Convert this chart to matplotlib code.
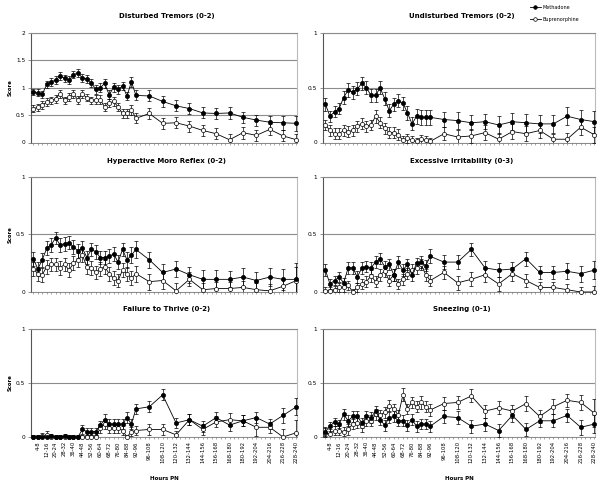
import matplotlib
matplotlib.use("Agg")
import matplotlib.pyplot as plt
from matplotlib.lines import Line2D

# time bins (hours post natal); first 24 bins are 4h wide, the rest 12h
bins = ["0-4", "4-8", "8-12", "12-16", "16-20", "20-24", "24-28", "28-32",
        "32-36", "36-40", "40-44", "44-48", "48-52", "52-56", "56-60", "60-64",
        "64-68", "68-72", "72-76", "76-80", "80-84", "84-88", "88-92", "92-96",
        "96-108", "108-120", "120-132", "132-144", "144-156", "156-168",
        "168-180", "180-192", "192-204", "204-216", "216-228", "228-240"]
shown_bins = bins[1:24:2] + bins[24:]

# Disturbed Tremors (0-2)
dist_meth = [0.92, 0.91, 0.88, 1.06, 1.11, 1.14, 1.22, 1.17, 1.14, 1.24, 1.27, 1.18,
             1.16, 1.09, 0.97, 1.00, 1.08, 0.87, 1.01, 0.97, 1.03, 0.85, 1.11, 0.86,
             0.85, 0.75, 0.67, 0.62, 0.54, 0.53, 0.54, 0.46, 0.41, 0.37, 0.36, 0.35]
dist_meth_err = [0.06, 0.06, 0.06, 0.07, 0.07, 0.07, 0.07, 0.07, 0.07, 0.07, 0.07, 0.07,
                 0.07, 0.07, 0.08, 0.08, 0.08, 0.08, 0.08, 0.08, 0.08, 0.08, 0.09, 0.09,
                 0.10, 0.10, 0.10, 0.10, 0.10, 0.10, 0.11, 0.10, 0.10, 0.12, 0.13, 0.14]
dist_bup = [0.62, 0.64, 0.68, 0.74, 0.77, 0.80, 0.89, 0.77, 0.83, 0.88, 0.78, 0.88,
            0.82, 0.77, 0.78, 0.78, 0.65, 0.72, 0.75, 0.65, 0.53, 0.53, 0.60, 0.44,
            0.53, 0.35, 0.36, 0.30, 0.22, 0.16, 0.05, 0.18, 0.13, 0.24, 0.12, 0.05]
dist_bup_err = [0.06, 0.07, 0.07, 0.07, 0.07, 0.07, 0.07, 0.07, 0.07, 0.07, 0.07, 0.07,
                0.07, 0.07, 0.08, 0.08, 0.08, 0.08, 0.08, 0.08, 0.08, 0.08, 0.09, 0.09,
                0.10, 0.10, 0.10, 0.10, 0.10, 0.10, 0.10, 0.11, 0.10, 0.10, 0.10, 0.10]

# Undisturbed Tremors (0-2)
und_meth = [0.35, 0.24, 0.28, 0.31, 0.41, 0.48, 0.46, 0.49, 0.54, 0.50, 0.43, 0.43,
            0.50, 0.40, 0.29, 0.35, 0.38, 0.36, 0.27, 0.17, 0.24, 0.23, 0.23, 0.23,
            0.21, 0.20, 0.18, 0.19, 0.16, 0.19, 0.18, 0.17, 0.17, 0.24, 0.21, 0.19]
und_meth_err = [0.06, 0.05, 0.05, 0.05, 0.06, 0.06, 0.06, 0.06, 0.06, 0.06, 0.06, 0.06,
                0.06, 0.06, 0.06, 0.06, 0.06, 0.06, 0.06, 0.06, 0.07, 0.07, 0.07, 0.07,
                0.07, 0.08, 0.07, 0.07, 0.08, 0.08, 0.08, 0.08, 0.08, 0.08, 0.09, 0.10]
und_bup = [0.16, 0.11, 0.08, 0.08, 0.11, 0.10, 0.11, 0.15, 0.17, 0.15, 0.16, 0.24,
           0.18, 0.13, 0.09, 0.09, 0.07, 0.02, 0.04, 0.02, 0.01, 0.03, 0.02, 0.01,
           0.08, 0.05, 0.06, 0.09, 0.03, 0.10, 0.08, 0.11, 0.03, 0.03, 0.14, 0.07]
und_bup_err = [0.05, 0.05, 0.05, 0.05, 0.05, 0.05, 0.05, 0.05, 0.05, 0.05, 0.05, 0.06,
               0.05, 0.05, 0.05, 0.05, 0.05, 0.04, 0.04, 0.04, 0.03, 0.04, 0.04, 0.03,
               0.06, 0.06, 0.06, 0.07, 0.06, 0.07, 0.07, 0.07, 0.05, 0.06, 0.07, 0.07]

# Hyperactive Moro Reflex (0-2)
moro_meth = [0.29, 0.20, 0.28, 0.38, 0.41, 0.47, 0.41, 0.42, 0.43, 0.39, 0.36, 0.38,
             0.30, 0.37, 0.35, 0.30, 0.30, 0.31, 0.33, 0.26, 0.37, 0.28, 0.32, 0.37,
             0.28, 0.17, 0.20, 0.15, 0.11, 0.11, 0.11, 0.13, 0.10, 0.13, 0.11, 0.11]
moro_meth_err = [0.06, 0.06, 0.06, 0.06, 0.06, 0.05, 0.06, 0.06, 0.06, 0.06, 0.06, 0.06,
                 0.06, 0.06, 0.06, 0.06, 0.06, 0.06, 0.06, 0.06, 0.06, 0.07, 0.07, 0.07,
                 0.07, 0.07, 0.07, 0.07, 0.08, 0.08, 0.07, 0.08, 0.07, 0.08, 0.09, 0.14]
moro_bup = [0.20, 0.16, 0.15, 0.22, 0.24, 0.24, 0.21, 0.24, 0.19, 0.25, 0.28, 0.32,
            0.22, 0.21, 0.17, 0.20, 0.22, 0.16, 0.12, 0.10, 0.19, 0.16, 0.12, 0.16,
            0.09, 0.10, 0.01, 0.11, 0.02, 0.03, 0.03, 0.04, 0.02, 0.01, 0.05, 0.10]
moro_bup_err = [0.06, 0.06, 0.06, 0.06, 0.06, 0.06, 0.06, 0.06, 0.06, 0.06, 0.06, 0.06,
                0.06, 0.06, 0.06, 0.06, 0.06, 0.06, 0.06, 0.06, 0.06, 0.06, 0.06, 0.07,
                0.07, 0.07, 0.07, 0.06, 0.06, 0.06, 0.06, 0.06, 0.06, 0.06, 0.06, 0.12]

# Excessive Irritability (0-3)
irr_meth = [0.19, 0.07, 0.10, 0.13, 0.08, 0.21, 0.21, 0.13, 0.21, 0.22, 0.21, 0.26,
            0.29, 0.22, 0.24, 0.15, 0.26, 0.19, 0.24, 0.15, 0.25, 0.26, 0.23, 0.31,
            0.26, 0.26, 0.37, 0.21, 0.19, 0.20, 0.29, 0.17, 0.17, 0.18, 0.16, 0.19]
irr_meth_err = [0.05, 0.04, 0.04, 0.04, 0.04, 0.05, 0.05, 0.05, 0.05, 0.05, 0.05, 0.05,
                0.05, 0.05, 0.05, 0.05, 0.05, 0.05, 0.05, 0.05, 0.05, 0.05, 0.05, 0.06,
                0.06, 0.06, 0.06, 0.06, 0.06, 0.06, 0.06, 0.06, 0.06, 0.07, 0.07, 0.08]
irr_bup = [0.01, 0.01, 0.02, 0.04, 0.04, 0.06, 0.00, 0.04, 0.07, 0.09, 0.14, 0.09,
           0.15, 0.18, 0.10, 0.15, 0.07, 0.11, 0.16, 0.19, 0.21, 0.24, 0.15, 0.10,
           0.17, 0.08, 0.11, 0.15, 0.07, 0.16, 0.10, 0.04, 0.04, 0.02, 0.00, 0.00]
irr_bup_err = [0.03, 0.03, 0.03, 0.04, 0.04, 0.04, 0.03, 0.04, 0.04, 0.05, 0.05, 0.05,
               0.05, 0.05, 0.05, 0.05, 0.04, 0.05, 0.05, 0.05, 0.05, 0.05, 0.05, 0.05,
               0.06, 0.06, 0.06, 0.06, 0.06, 0.06, 0.06, 0.05, 0.05, 0.05, 0.04, 0.05]

# Failure to Thrive (0-2)
ftt_meth = [0.00, 0.00, 0.00, 0.00, 0.01, 0.00, 0.00, 0.01, 0.00, 0.00, 0.00, 0.07,
            0.05, 0.05, 0.05, 0.11, 0.16, 0.12, 0.12, 0.12, 0.12, 0.18, 0.12, 0.26,
            0.28, 0.39, 0.13, 0.16, 0.10, 0.18, 0.11, 0.15, 0.18, 0.12, 0.20, 0.28]
ftt_meth_err = [0.02, 0.02, 0.02, 0.02, 0.02, 0.02, 0.02, 0.02, 0.02, 0.02, 0.02, 0.04,
                0.03, 0.03, 0.03, 0.04, 0.05, 0.05, 0.05, 0.05, 0.05, 0.05, 0.05, 0.05,
                0.05, 0.05, 0.05, 0.05, 0.05, 0.05, 0.05, 0.05, 0.05, 0.05, 0.07, 0.08]
ftt_bup = [0.00, 0.00, 0.01, 0.02, 0.00, 0.00, 0.00, 0.00, 0.00, 0.00, 0.00, 0.00,
           0.00, 0.00, 0.00, 0.08, 0.12, 0.08, 0.08, 0.08, 0.06, 0.00, 0.05, 0.06,
           0.07, 0.07, 0.02, 0.16, 0.07, 0.14, 0.16, 0.15, 0.09, 0.09, 0.00, 0.04]
ftt_bup_err = [0.02, 0.02, 0.03, 0.04, 0.02, 0.02, 0.02, 0.02, 0.02, 0.02, 0.02, 0.02,
               0.02, 0.02, 0.02, 0.04, 0.05, 0.04, 0.04, 0.04, 0.04, 0.02, 0.04, 0.04,
               0.05, 0.05, 0.04, 0.05, 0.05, 0.05, 0.06, 0.05, 0.08, 0.05, 0.07, 0.12]

# Sneezing (0-1)
snz_meth = [0.05, 0.10, 0.14, 0.12, 0.21, 0.15, 0.19, 0.19, 0.13, 0.19, 0.18, 0.24,
            0.16, 0.11, 0.18, 0.19, 0.15, 0.15, 0.11, 0.16, 0.10, 0.12, 0.12, 0.10,
            0.19, 0.18, 0.10, 0.12, 0.06, 0.20, 0.07, 0.15, 0.15, 0.20, 0.09, 0.12]
snz_meth_err = [0.04, 0.04, 0.04, 0.04, 0.05, 0.05, 0.05, 0.05, 0.05, 0.05, 0.05, 0.05,
                0.05, 0.05, 0.05, 0.05, 0.05, 0.05, 0.05, 0.05, 0.05, 0.05, 0.05, 0.05,
                0.06, 0.06, 0.06, 0.06, 0.06, 0.06, 0.06, 0.06, 0.06, 0.06, 0.07, 0.08]
snz_bup = [0.04, 0.03, 0.06, 0.06, 0.05, 0.07, 0.12, 0.13, 0.10, 0.15, 0.15, 0.21,
           0.20, 0.23, 0.29, 0.26, 0.20, 0.39, 0.26, 0.32, 0.28, 0.32, 0.28, 0.25,
           0.31, 0.32, 0.38, 0.24, 0.27, 0.24, 0.31, 0.19, 0.28, 0.34, 0.32, 0.22]
snz_bup_err = [0.04, 0.04, 0.04, 0.04, 0.04, 0.05, 0.05, 0.05, 0.05, 0.05, 0.05, 0.05,
               0.05, 0.05, 0.05, 0.05, 0.05, 0.06, 0.05, 0.05, 0.05, 0.06, 0.05, 0.06,
               0.06, 0.06, 0.06, 0.06, 0.06, 0.06, 0.07, 0.06, 0.07, 0.06, 0.07, 0.13]

hours = [int(b.split("-")[1]) for b in bins]

W, H = 603, 488
fig = plt.figure(figsize=(W / 100, H / 100), dpi=100)


def rect(l, t, r, b):
    return [l / W, 1 - b / H, (r - l) / W, (b - t) / H]


cols = [(31, 297), (323, 595)]
rows = [(33, 142.5), (177, 292), (329, 437)]
title_y = [16, 161, 309]

panels = [
    ("Disturbed Tremors (0-2)", 2, dist_meth, dist_meth_err, dist_bup, dist_bup_err),
    ("Undisturbed Tremors (0-2)", 1, und_meth, und_meth_err, und_bup, und_bup_err),
    ("Hyperactive Moro Reflex (0-2)", 1, moro_meth, moro_meth_err, moro_bup, moro_bup_err),
    ("Excessive Irritability (0-3)", 1, irr_meth, irr_meth_err, irr_bup, irr_bup_err),
    ("Failure to Thrive (0-2)", 1, ftt_meth, ftt_meth_err, ftt_bup, ftt_bup_err),
    ("Sneezing (0-1)", 1, snz_meth, snz_meth_err, snz_bup, snz_bup_err),
]

grid_col = "#8c8c8c"
for k, (title, ymax, meth, meth_e, bup, bup_e) in enumerate(panels):
    r, c = divmod(k, 2)
    l, rr = cols[c]
    t, b = rows[r]
    ax = fig.add_axes(rect(l, t, rr, b))

    for y, e, face in [(bup, bup_e, "white"), (meth, meth_e, "black")]:
        ax.errorbar(hours, y, yerr=e, fmt="none", ecolor="black",
                    elinewidth=0.5, capsize=1.2, capthick=0.5, zorder=3)
        ax.plot(hours, y, color="black", lw=0.6, marker="o", ms=3.0,
                mfc=face, mec="black", mew=0.5, zorder=4, clip_on=False)

    ax.set_xlim(1.9, 240.5)
    ax.set_ylim(0, ymax)
    yt = [i * 0.5 for i in range(int(ymax / 0.5) + 1)]
    ax.set_yticks(yt)
    ax.set_yticklabels(["%g" % v for v in yt])
    ax.yaxis.grid(True, color=grid_col, lw=0.8)
    ax.set_axisbelow(True)

    ax.set_xticks(list(range(4, 241, 4)))
    labels = [bins[hours.index(h)] if h in hours and bins[hours.index(h)] in shown_bins else ""
              for h in range(4, 241, 4)]
    ax.set_xticklabels(labels, rotation=90)
    ax.tick_params(axis="x", length=1.5, width=0.4, color="#666666",
                   labelsize=3.8, pad=1.5, labelbottom=(r == 2))
    ax.tick_params(axis="y", length=2, width=0.5, color="#666666",
                   labelsize=4.2, pad=2)

    ax.spines["left"].set_color("#555555")
    ax.spines["left"].set_linewidth(0.8)
    ax.spines["bottom"].set_color("#777777")
    ax.spines["bottom"].set_linewidth(0.6)
    ax.spines["top"].set_color(grid_col)
    ax.spines["top"].set_linewidth(0.8)
    ax.spines["right"].set_color("#bbbbbb")
    ax.spines["right"].set_linewidth(0.8)

    fig.text((l + rr) / 2 / W + 3 / W, 1 - title_y[r] / H, title,
             ha="center", va="center", fontsize=5, fontweight="bold")
    if c == 0:
        fig.text(10 / W, 1 - (t + b) / 2 / H, "Score", rotation=90,
                 ha="center", va="center", fontsize=3.8, fontweight="bold")
    if r == 2:
        fig.text((l + rr) / 2 / W, 1 - 478 / H, "Hours PN",
                 ha="center", va="center", fontsize=4, fontweight="bold")

handles = [Line2D([], [], color="black", lw=0.6, marker="o", ms=2.6, mfc="black", mec="black", mew=0.5),
           Line2D([], [], color="black", lw=0.6, marker="o", ms=2.6, mfc="white", mec="black", mew=0.5)]
fig.legend(handles, ["Methadone", "Buprenorphine"], loc="upper left",
           bbox_to_anchor=(528 / W, 1 - 3 / H), frameon=False, fontsize=3.5,
           handlelength=2.2, handletextpad=0.3, labelspacing=1.4, borderaxespad=0)

fig.savefig("out.png", dpi=100)
